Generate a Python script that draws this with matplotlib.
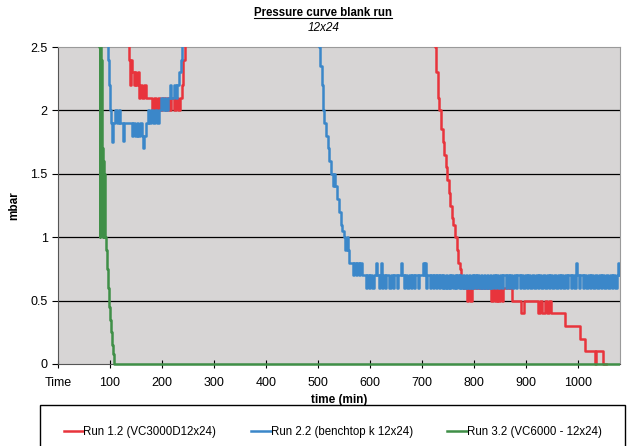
import matplotlib
matplotlib.use("Agg")
import matplotlib.pyplot as plt
from matplotlib.patches import Rectangle

plt.rcParams['font.family'] = ['Liberation Sans', 'DejaVu Sans']

# Run 1.2 (VC3000D12x24) - change points (min, mbar)
run1_t = [0, 130, 134, 136, 138, 140, 143, 146, 148, 150, 153, 155, 158, 162, 165,
          170, 180, 184, 188, 192, 196, 200, 206, 210, 214, 218, 222, 226, 230, 234,
          238, 241, 244, 248, 720, 722, 724, 727, 730, 733, 736, 739, 742, 745, 748,
          751, 754, 757, 760, 763, 766, 769, 772, 775, 778, 786, 788, 791, 795, 800,
          810, 833, 836, 840, 843, 846, 849, 853, 856, 872, 889, 895, 923, 927, 931,
          935, 939, 943, 948, 955, 974, 1003, 1013, 1032, 1034, 1048, 1051, 1053]
run1_v = [3.0, 2.9, 2.6, 2.4, 2.2, 2.4, 2.3, 2.2, 2.3, 2.2, 2.3, 2.1, 2.2, 2.1, 2.2,
          2.1, 2.0, 2.1, 2.0, 2.1, 2.0, 2.1, 2.0, 2.1, 2.0, 2.1, 2.0, 2.1, 2.0, 2.1,
          2.2, 2.4, 2.6, 3.0, 3.0, 2.6, 2.5, 2.3, 2.1, 2.0, 1.85, 1.75, 1.65, 1.55, 1.45,
          1.35, 1.25, 1.15, 1.1, 1.0, 0.9, 0.8, 0.75, 0.65, 0.6, 0.5, 0.6, 0.5, 0.6, 0.6,
          0.6, 0.5, 0.6, 0.5, 0.6, 0.5, 0.6, 0.5, 0.6, 0.5, 0.4, 0.5, 0.4, 0.5, 0.4,
          0.5, 0.4, 0.5, 0.4, 0.4, 0.3, 0.2, 0.1, 0.0, 0.1, 0.0, 0.0, 0.0]

# Run 2.2 (benchtop k 12x24)
run2_t = [0, 92, 94, 96, 98, 100, 102, 104, 106, 110, 113, 117, 120, 124, 126,
          142, 145, 148, 151, 154, 158, 161, 164, 166, 169, 172, 175, 178, 182, 186,
          190, 194, 198, 201, 205, 208, 211, 215, 218, 222, 226, 229, 233, 236, 239,
          242, 500, 502, 504, 507, 510, 512, 515, 518, 521, 525, 528, 531, 533, 537,
          540, 543, 546, 549, 552, 555, 557, 560, 566, 569, 572, 575, 578, 581, 584,
          591, 594, 597, 600, 604, 607, 611, 613, 616, 618, 620, 622, 625, 628, 631,
          636, 639, 643, 646, 651, 654, 659, 661, 664, 667, 671, 674, 678, 680, 684,
          687, 691, 694, 701, 703, 705, 707, 710, 714, 717, 721, 723, 726, 729, 732,
          734, 737, 740, 742, 745, 748, 751, 753, 756, 759, 762, 764, 767, 770, 773,
          775, 778, 781, 784, 786, 789, 792, 795, 797, 800, 803, 806, 809, 812, 815,
          818, 821, 824, 827, 830, 833, 836, 839, 842, 846, 849, 853, 856, 860, 863,
          866, 869, 873, 876, 880, 883, 887, 890, 894, 897, 901, 904, 908, 911, 915,
          918, 922, 925, 929, 932, 936, 939, 943, 946, 950, 953, 957, 960, 964, 967,
          971, 974, 978, 981, 985, 988, 992, 996, 998, 1001, 1004, 1008, 1011, 1015, 1018,
          1022, 1025, 1029, 1032, 1036, 1039, 1043, 1046, 1050, 1053, 1057, 1060, 1064, 1067, 1071,
          1074, 1077, 1079, 1085]
run2_v = [3.0, 3.0, 2.6, 2.4, 2.2, 2.0, 1.9, 1.75, 1.9, 2.0, 1.9, 2.0, 1.9, 1.76, 1.9,
          1.8, 1.9, 1.8, 1.9, 1.8, 1.9, 1.8, 1.7, 1.8, 1.9, 2.0, 1.9, 2.0, 1.9, 2.0,
          1.9, 2.0, 2.1, 2.0, 2.1, 2.0, 2.1, 2.2, 2.1, 2.2, 2.1, 2.2, 2.3, 2.4, 2.6,
          3.0, 3.0, 2.5, 2.35, 2.2, 2.0, 1.9, 1.8, 1.7, 1.6, 1.5, 1.4, 1.5, 1.4, 1.3,
          1.2, 1.1, 1.05, 1.0, 0.9, 1.0, 0.9, 0.8, 0.7, 0.8, 0.7, 0.8, 0.7, 0.8, 0.7,
          0.6, 0.7, 0.6, 0.7, 0.6, 0.7, 0.8, 0.7, 0.6, 0.7, 0.8, 0.6, 0.7, 0.6, 0.7,
          0.6, 0.7, 0.6, 0.7, 0.6, 0.7, 0.8, 0.7, 0.6, 0.7, 0.6, 0.7, 0.6, 0.7, 0.6,
          0.7, 0.6, 0.7, 0.8, 0.7, 0.8, 0.6, 0.7, 0.6, 0.7, 0.6, 0.7, 0.6, 0.7, 0.6,
          0.7, 0.6, 0.7, 0.6, 0.7, 0.6, 0.7, 0.6, 0.7, 0.6, 0.7, 0.6, 0.7, 0.6, 0.7,
          0.6, 0.7, 0.6, 0.7, 0.6, 0.7, 0.6, 0.7, 0.6, 0.7, 0.6, 0.7, 0.6, 0.7, 0.6,
          0.7, 0.6, 0.7, 0.6, 0.7, 0.6, 0.7, 0.6, 0.7, 0.6, 0.7, 0.6, 0.7, 0.6, 0.7,
          0.6, 0.7, 0.6, 0.7, 0.6, 0.7, 0.6, 0.7, 0.6, 0.7, 0.6, 0.7, 0.6, 0.7, 0.6,
          0.7, 0.6, 0.7, 0.6, 0.7, 0.6, 0.7, 0.6, 0.7, 0.6, 0.7, 0.6, 0.7, 0.6, 0.7,
          0.6, 0.7, 0.6, 0.7, 0.6, 0.7, 0.6, 0.8, 0.7, 0.6, 0.7, 0.6, 0.7, 0.6, 0.7,
          0.6, 0.7, 0.6, 0.7, 0.6, 0.7, 0.6, 0.7, 0.6, 0.7, 0.6, 0.7, 0.6, 0.7, 0.6,
          0.7, 0.8, 0.7, 0.7]

# Run 3.2 (VC6000 - 12x24)
run3_t = [0, 76, 77, 79, 80, 81, 82, 83, 84, 85, 86, 87, 88, 89, 90,
          92, 94, 96, 98, 100, 102, 104, 106, 108, 1085]
run3_v = [3.5, 3.5, 2.6, 2.5, 1.0, 2.5, 1.1, 2.4, 1.05, 1.7, 1.0, 1.6, 1.0, 1.5, 1.0,
          0.9, 0.75, 0.6, 0.45, 0.35, 0.25, 0.15, 0.08, 0.0, 0.0]

labels = ['Run 1.2 (VC3000D12x24)', 'Run 2.2 (benchtop k 12x24)', 'Run 3.2 (VC6000 - 12x24)']
colors = ['#e8343c', '#3b87c9', '#3f8f47']
xticks = [0, 100, 200, 300, 400, 500, 600, 700, 800, 900, 1000]
xticklabels = ['Time', '100', '200', '300', '400', '500', '600', '700', '800', '900', '1000']
yticks = [0, 0.5, 1, 1.5, 2, 2.5]

fig = plt.figure(figsize=(6.4, 4.46), dpi=100)
ax = fig.add_axes([58 / 640, 1 - 364 / 446, 562 / 640, 317 / 446])
ax.set_facecolor('#d7d5d5')

# clip box a bit lower than the axes so the zero line shows fully
clip = Rectangle((0, -0.015), 1, 1.015, transform=ax.transAxes, visible=False)
ax.add_patch(clip)
for i, (t, v) in enumerate([(run1_t, run1_v), (run2_t, run2_v), (run3_t, run3_v)]):
    ln, = ax.plot(t, v, drawstyle='steps-post', color=colors[i], lw=1.8, label=labels[i], zorder=3 + i)
    ln.set_clip_path(clip)

ax.set_xlim(0, 1080)
ax.set_ylim(0, 2.5)
ax.set_xticks(xticks)
ax.set_xticklabels(xticklabels)
ax.set_yticks(yticks)
ax.set_yticklabels(['0', '0.5', '1', '1.5', '2', '2.5'])
ax.tick_params(axis='x', direction='inout', length=6, labelsize=9, pad=6)
ax.tick_params(axis='y', direction='out', length=4, labelsize=9)
for y in [0.5, 1, 1.5, 2]:
    ax.axhline(y, color='black', lw=0.9, zorder=2)
for s in ['top', 'right']:
    ax.spines[s].set_color('#9a9a9a')
ax.spines['left'].set_color('#555555')
ax.spines['bottom'].set_color('#555555')

ax.set_ylabel('mbar', fontsize=8.5, fontweight='bold', labelpad=7)
ax.set_xlabel('time (min)', fontsize=8.5, fontweight='bold', labelpad=4)

t1 = fig.text(0.505, 1 - 13 / 446, 'Pressure curve blank run', ha='center', va='center',
              fontsize=8.3, fontweight='bold')
fig.text(0.505, 1 - 28 / 446, '12x24', ha='center', va='center', fontsize=8.5, style='italic')

# underline for the title
fig.canvas.draw()
bb = t1.get_window_extent().transformed(fig.transFigure.inverted())
fig.add_artist(plt.Line2D([bb.x0, bb.x1], [bb.y0 + 0.002, bb.y0 + 0.002], color='black', lw=0.8,
                          transform=fig.transFigure))

fig.add_artist(Rectangle((40 / 640, -0.1), 585 / 640, 0.1 + 1 - 405 / 446, transform=fig.transFigure,
                         fill=False, edgecolor='black', lw=1.0))
fig.legend(loc='center', bbox_to_anchor=(0.52, 1 - 432 / 446), ncol=3, frameon=False,
           fontsize=8.3, handlelength=1.7, handletextpad=0.0, columnspacing=3.0)

fig.savefig('out.png', dpi=100, facecolor='white')
